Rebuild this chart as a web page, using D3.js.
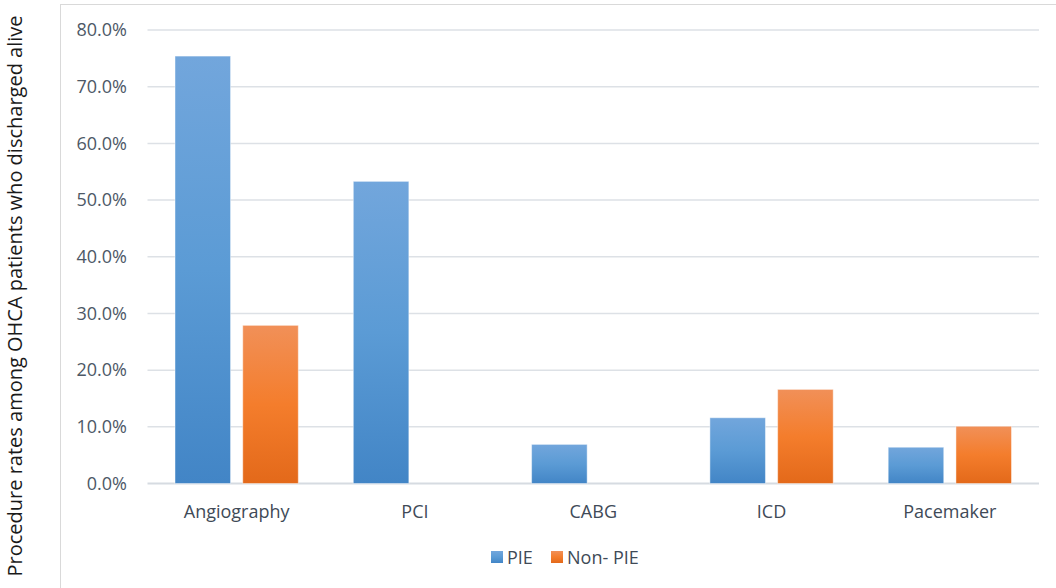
<!DOCTYPE html>
<html>
<head>
<meta charset="utf-8">
<script src="https://cdn.jsdelivr.net/npm/d3@7"></script>
<style>
  html, body { margin: 0; padding: 0; background: #fff; }
  svg { display: block; }
  text { font-family: "Open Sans", Lato, sans-serif; }
</style>
</head>
<body>
<svg id="chart" width="1056" height="588"></svg>
<script>
// Procedure rates (%) among OHCA patients discharged alive
const categories = ["Angiography", "PCI", "CABG", "ICD", "Pacemaker"];
const seriesNames = ["PIE", "Non- PIE"];
const pieValues = [75.4, 53.3, 6.9, 11.6, 6.4];
const nonPieValues = [27.9, 0, 0, 16.6, 10.1];
const yTicks = [0, 10, 20, 30, 40, 50, 60, 70, 80];
const yTitle = "Procedure rates among OHCA patients who discharged alive";

const seriesValues = [pieValues, nonPieValues];
const colors = {
  "PIE": { top: "#72a6dc", mid: "#5b9bd5", bottom: "#4285c6" },
  "Non- PIE": { top: "#f19058", mid: "#f47d2c", bottom: "#e3691a" }
};
const fontFamily = "'Open Sans', Lato, sans-serif";

const svg = d3.select("#chart");
const W = 1056, H = 588;
const plot = { left: 147.5, right: 1039, top: 30, bottom: 483.5 };

// gradients for the bar fills
const defs = svg.append("defs");
seriesNames.forEach((s, i) => {
  const g = defs.append("linearGradient")
    .attr("id", "grad" + i)
    .attr("x1", 0).attr("y1", 0).attr("x2", 0).attr("y2", 1);
  g.append("stop").attr("offset", "0%").attr("stop-color", colors[s].top);
  g.append("stop").attr("offset", "50%").attr("stop-color", colors[s].mid);
  g.append("stop").attr("offset", "100%").attr("stop-color", colors[s].bottom);
});

// outer chart frame
svg.append("rect")
  .attr("x", 60.5).attr("y", 4.5)
  .attr("width", W).attr("height", H)
  .attr("fill", "none")
  .attr("stroke", "#d9d9d9")
  .attr("stroke-width", 1);

const x0 = d3.scaleBand().domain(categories).range([plot.left, plot.right]).padding(0);
const inset = 27.5;
const x1 = d3.scaleBand().domain(seriesNames)
  .range([inset, x0.bandwidth() - inset]).paddingInner(0.18);
const y = d3.scaleLinear().domain([0, 80]).range([plot.bottom, plot.top]);

// gridlines
svg.append("g")
  .selectAll("line")
  .data(yTicks)
  .join("line")
  .attr("x1", plot.left).attr("x2", plot.right)
  .attr("y1", d => y(d)).attr("y2", d => y(d))
  .attr("stroke", d => d === 0 ? "#d6dbe1" : "#dde1e6")
  .attr("stroke-width", d => d === 0 ? 2 : 1.5);

// y axis labels
const yAxis = d3.axisLeft(y).tickValues(yTicks)
  .tickFormat(d => d3.format(".1f")(d) + "%")
  .tickSize(0).tickPadding(0);
const yg = svg.append("g").attr("transform", `translate(127,0)`).call(yAxis);
yg.select(".domain").remove();
yg.selectAll("text")
  .attr("fill", "#4d5866")
  .attr("font-size", "18px")
  .attr("font-family", fontFamily);

// bars
const groups = svg.append("g")
  .selectAll("g")
  .data(categories)
  .join("g")
  .attr("transform", d => `translate(${x0(d)},0)`);

groups.selectAll("rect")
  .data((c, ci) => seriesNames.map((s, si) => ({ s, si, v: seriesValues[si][ci] })))
  .join("rect")
  .filter(d => d.v > 0)
  .attr("x", d => x1(d.s))
  .attr("width", x1.bandwidth())
  .attr("y", d => y(d.v))
  .attr("height", d => y(0) - y(d.v))
  .attr("fill", d => `url(#grad${d.si})`)
  .attr("stroke", "rgba(255,255,255,0.45)")
  .attr("stroke-width", 1);

// x axis labels
const xAxis = d3.axisBottom(x0).tickSize(0).tickPadding(0);
const xg = svg.append("g").attr("transform", `translate(0,${plot.bottom + 34})`).call(xAxis);
xg.select(".domain").remove();
xg.selectAll("text")
  .attr("dy", 0)
  .attr("fill", "#404a57")
  .attr("font-size", "18px")
  .attr("font-family", fontFamily);

// y axis title
svg.append("text")
  .attr("transform", "translate(22,296) rotate(-90)")
  .attr("text-anchor", "middle")
  .attr("fill", "#1a1a1a")
  .attr("font-size", "20px")
  .text(yTitle);

// legend
const legend = svg.append("g").attr("transform", "translate(491,551)");
const legendItems = [
  { name: seriesNames[0], dx: 0 },
  { name: seriesNames[1], dx: 60 }
];
legendItems.forEach((it, i) => {
  const g = legend.append("g").attr("transform", `translate(${it.dx},0)`);
  g.append("rect").attr("width", 12).attr("height", 12)
    .attr("fill", `url(#grad${i})`);
  g.append("text").attr("x", 16).attr("y", 12.5)
    .attr("fill", "#404a57")
    .attr("font-size", "18px")
    .text(it.name);
});
</script>
</body>
</html>
